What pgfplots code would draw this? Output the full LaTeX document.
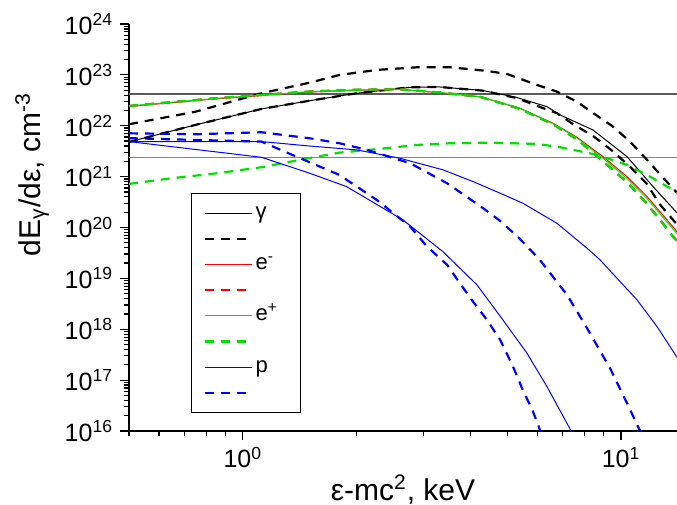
\documentclass[border=0pt]{standalone}
\usepackage{fontspec}
\setmainfont{Liberation Sans}
\usepackage{pgfplots}
\pgfplotsset{compat=1.18}
\definecolor{cgreen}{RGB}{0,225,0}
\definecolor{cblue}{RGB}{0,0,255}
\definecolor{cred}{RGB}{255,0,0}
\definecolor{cgray}{RGB}{90,90,90}

\begin{document}
\begin{tikzpicture}
\begin{axis}[
  at={(0,0)}, anchor=south west,
  scale only axis, width=274pt, height=203.5pt,
  xmode=log, ymode=log,
  xmin=0.5, xmax=14.06, ymin=1e16, ymax=1e24,
  axis x line*=bottom, axis y line*=left,
  axis line style={line width=0.75pt},
  tick align=outside,
  major tick length=4.5pt, minor tick length=2.5pt,
  every tick/.style={black, line width=0.6pt},
  xtick={1,10}, xticklabels={10\textsuperscript{0},10\textsuperscript{1}},
  minor xtick={0.5,0.6,0.7,0.8,0.9,2,3,4,5,6,7,8,9},
  ytick={1e16,1e17,1e18,1e19,1e20,1e21,1e22,1e23,1e24},
  yticklabels={10\textsuperscript{16},10\textsuperscript{17},10\textsuperscript{18},10\textsuperscript{19},10\textsuperscript{20},10\textsuperscript{21},10\textsuperscript{22},10\textsuperscript{23},10\textsuperscript{24}},
  minor ytick={2e16,3e16,4e16,5e16,6e16,7e16,8e16,9e16,
    2e17,3e17,4e17,5e17,6e17,7e17,8e17,9e17,
    2e18,3e18,4e18,5e18,6e18,7e18,8e18,9e18,
    2e19,3e19,4e19,5e19,6e19,7e19,8e19,9e19,
    2e20,3e20,4e20,5e20,6e20,7e20,8e20,9e20,
    2e21,3e21,4e21,5e21,6e21,7e21,8e21,9e21,
    2e22,3e22,4e22,5e22,6e22,7e22,8e22,9e22,
    2e23,3e23,4e23,5e23,6e23,7e23,8e23,9e23},
  ticklabel style={font=\fontsize{12.5}{14}\selectfont},
  xlabel={ε-mc\textsuperscript{2}, keV},
  ylabel={dE\textsubscript{γ}/dε, cm\textsuperscript{-3}},
  label style={font=\fontsize{15}{17}\selectfont},
  xlabel style={at={(axis description cs:0.5,-0.17)}, anchor=base},
  ylabel style={at={(axis description cs:-0.177,0.63)}, anchor=center},
  legend style={at={(axis description cs:0.113,0.585)}, anchor=north west,
    draw=black, line width=0.6pt, fill=white,
    font=\fontsize{11}{13}\selectfont, inner xsep=6pt, inner ysep=4pt,
    row sep=0.8pt, nodes={inner sep=1.5pt, text height=7pt, text depth=2pt}},
  legend cell align=left,
  legend image code/.code={\draw[#1] (0pt,0pt) -- (23.5pt,0pt);},
  sol/.style={line width=0.5pt},
  dsh/.style={line width=1.1pt, dash pattern=on 4.5pt off 3.5pt},
]
% reference levels
\addplot[cgray, line width=0.75pt, forget plot] coordinates {(0.5,4.22e22) (14.06,4.22e22)};
\addplot[cgreen, line width=0.6pt, forget plot] coordinates {(0.5,2.38e21) (14.06,2.38e21)};

% gamma
\addplot[black, sol] coordinates {
 (0.5,4.8e21) (0.75,1.04e22) (1.12,2.14e22) (1.5,3.1e22) (2.0,4.35e22) (2.77,5.7e22)
 (3.3,5.8e22) (4.3,4.95e22) (5.3,3.6e22) (6.37,2.37e22) (6.9,1.63e22) (8.43,8.26e21)
 (10.37,2.47e21) (12.15,6.37e20) (14.06,1.94e20)};
\addlegendentry{\makebox[15pt][l]{γ}}
\addplot[black, dsh] coordinates {
 (0.5,1.07e22) (0.75,1.89e22) (1.12,4.35e22) (1.5,7.0e22) (1.8,9.95e22) (2.26,1.25e23)
 (2.89,1.41e23) (3.53,1.41e23) (4.4,1.2e23) (5.0,1.04e23) (6.0,6.32e22) (6.77,4.68e22)
 (7.65,2.97e22) (8.43,1.78e22) (9.47,9.91e21) (10.56,4.88e21) (11.72,2.13e21)
 (12.84,1.0e21) (14.06,4.8e20)};
\addlegendentry{\vphantom{p}}
\addplot[black, dsh, forget plot] coordinates {
 (0.5,4.8e21) (0.75,1.04e22) (1.12,2.14e22) (1.5,3.1e22) (2.0,4.35e22) (2.77,5.7e22)
 (3.3,5.8e22) (4.3,4.9e22) (5.3,3.5e22) (6.0,2.45e22) (6.77,1.76e22) (7.46,1.08e22)
 (8.43,6.31e21) (9.47,3.24e21) (10.56,1.57e21) (11.65,7.5e20) (12.69,2.8e20)
 (13.73,1.41e20) (14.06,1.15e20)};

% electrons
\addplot[cred, sol] coordinates {
 (0.5,2.4e22) (0.86,3.4e22) (1.5,4.6e22) (2.0,5.0e22) (2.6,5.15e22) (3.32,4.45e22)
 (4.24,3.7e22) (5.4,2.21e22) (6.61,1.12e22) (6.9,9.3e21) (7.65,5.9e21) (8.96,2.47e21)
 (10.37,1.0e21) (11.72,4.05e20) (13.23,1.41e20) (14.06,8.3e19)};
\addlegendentry{e\textsuperscript{-}}
\addplot[cred, dsh] coordinates {
 (0.5,2.45e22) (0.86,3.5e22) (1.5,4.7e22) (2.0,5.1e22) (2.6,5.2e22) (3.32,4.5e22)
 (4.24,3.7e22) (5.4,2.15e22) (6.61,1.07e22) (7.65,5.4e21) (8.96,2.0e21) (10.43,7.5e20)
 (11.57,3.23e20) (12.69,1.41e20) (13.73,6.6e19) (14.06,5.5e19)};
\addlegendentry{\vphantom{p}}

% positrons
\addplot[cgreen, sol] coordinates {
 (0.5,2.45e22) (0.86,3.47e22) (1.5,4.68e22) (2.0,5.05e22) (2.6,5.2e22) (3.32,4.5e22)
 (4.24,3.73e22) (5.4,2.21e22) (6.61,1.1e22) (7.65,5.75e21) (8.96,2.3e21) (10.37,9.2e20)
 (11.72,3.7e20) (13.23,1.28e20) (14.06,7.6e19)};
\addlegendentry{e\textsuperscript{+}}
\addplot[cgreen, dsh] coordinates {
 (0.5,2.45e22) (0.86,3.5e22) (1.5,4.7e22) (2.0,5.1e22) (2.6,5.2e22) (3.32,4.5e22)
 (4.24,3.7e22) (5.4,2.15e22) (6.61,1.07e22) (7.65,5.4e21) (8.96,2.0e21) (10.43,7.5e20)
 (11.57,3.23e20) (12.69,1.41e20) (13.73,6.6e19) (14.06,5.5e19)};
\addlegendentry{\vphantom{p}}
\addplot[cgreen, dsh, forget plot] coordinates {
 (0.5,7.2e20) (0.65,9.3e20) (0.86,1.17e21) (1.12,1.53e21) (1.38,2.06e21) (1.8,2.96e21)
 (2.26,3.46e21) (2.89,4.2e21) (3.53,4.53e21) (4.5,4.66e21) (6.0,4.39e21) (6.9,3.78e21)
 (7.65,3.24e21) (8.6,2.7e21) (10.37,1.7e21) (11.72,1.08e21) (13.23,6.4e20) (14.06,5.0e20)};

% protons
\addplot[cblue, sol] coordinates {
 (0.5,4.88e21) (1.12,4.88e21) (1.5,4.0e21) (2.0,3.35e21) (2.6,2.3e21) (3.38,1.36e21)
 (4.06,8.0e20) (4.79,4.72e20) (5.5,3.0e20) (6.77,1.21e20) (7.65,5.7e19) (8.13,3.92e19)
 (8.8,2.31e19) (11.02,3.78e18) (12.45,1.13e18) (14.06,2.8e17)};
\addlegendentry{p}
\addplot[cblue, dsh] coordinates {
 (0.5,7.1e21) (0.75,6.8e21) (1.12,7.45e21) (1.5,5.68e21) (1.8,4.53e21) (2.13,3.35e21)
 (2.77,1.83e21) (3.47,7.4e20) (4.32,2.39e20) (4.79,1.35e20) (5.4,6.0e19) (6.1,2.31e19)
 (7.2,4.74e18) (8.13,1.05e18) (9.35,1.72e17) (10.37,3.53e16) (11.09,1.22e16) (11.5,7e15)};
\addlegendentry{\vphantom{p}}
\addplot[cblue, sol, forget plot] coordinates {
 (0.5,4.88e21) (1.12,2.4e21) (1.5,1.17e21) (1.88,6.37e20) (2.65,1.41e20) (3.38,3.36e19)
 (3.99,1.01e19) (4.16,7.45e18) (4.87,1.53e18) (5.64,3.39e17) (6.37,7.48e16) (7.42,9.3e15)};
\addplot[cblue, dsh, forget plot] coordinates {
 (0.5,5.7e21) (0.75,5.26e21) (1.12,4.88e21) (1.32,2.88e21) (1.8,1.08e21) (2.26,3.48e20)
 (2.77,1.04e20) (3.07,4.22e19) (3.47,1.84e19) (3.75,8.0e18) (4.06,3.5e18) (4.42,1.53e18)
 (4.79,6.2e17) (5.18,1.85e17) (5.5,6.4e16) (5.85,2.42e16) (6.1,1.06e16) (6.3,7e15)};
\end{axis}
\pgfresetboundingbox
\path[use as bounding box] (-64.5pt,-37pt) rectangle (274pt,215.5pt);
\end{tikzpicture}
\end{document}
